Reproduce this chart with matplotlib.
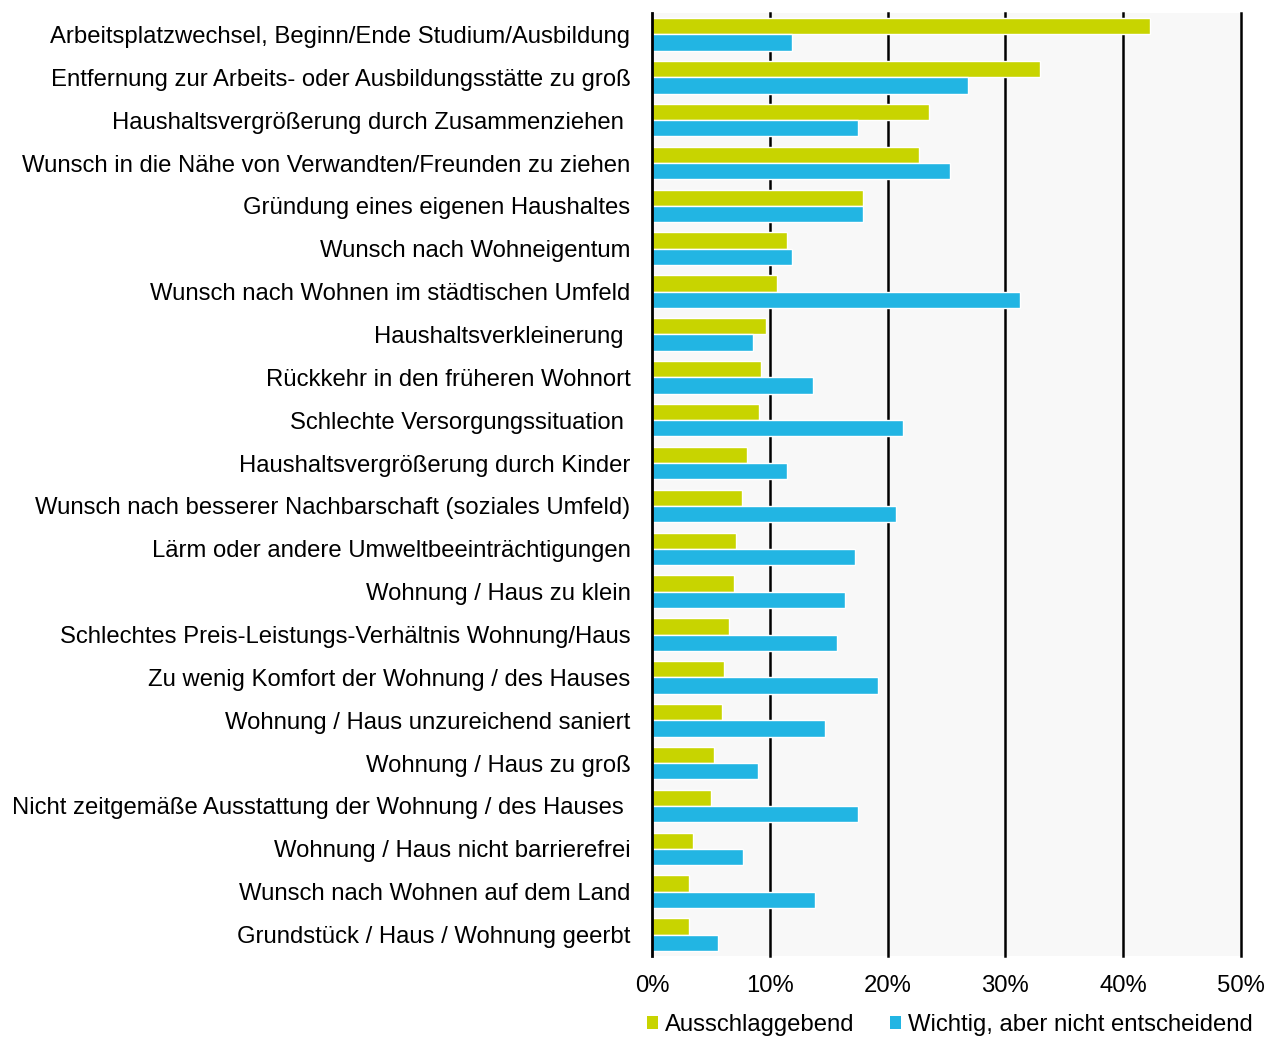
import matplotlib
matplotlib.use("Agg")
import matplotlib.pyplot as plt
import numpy as np
from matplotlib.patches import Patch

plt.rcParams['font.family'] = ['Liberation Sans', 'DejaVu Sans']

categories = [
    "Arbeitsplatzwechsel, Beginn/Ende Studium/Ausbildung",
    "Entfernung zur Arbeits- oder Ausbildungsstätte zu groß",
    "Haushaltsvergrößerung durch Zusammenziehen ",
    "Wunsch in die Nähe von Verwandten/Freunden zu ziehen",
    "Gründung eines eigenen Haushaltes",
    "Wunsch nach Wohneigentum",
    "Wunsch nach Wohnen im städtischen Umfeld",
    "Haushaltsverkleinerung ",
    "Rückkehr in den früheren Wohnort",
    "Schlechte Versorgungssituation ",
    "Haushaltsvergrößerung durch Kinder",
    "Wunsch nach besserer Nachbarschaft (soziales Umfeld)",
    "Lärm oder andere Umweltbeeinträchtigungen",
    "Wohnung / Haus zu klein",
    "Schlechtes Preis-Leistungs-Verhältnis Wohnung/Haus",
    "Zu wenig Komfort der Wohnung / des Hauses",
    "Wohnung / Haus unzureichend saniert",
    "Wohnung / Haus zu groß",
    "Nicht zeitgemäße Ausstattung der Wohnung / des Hauses ",
    "Wohnung / Haus nicht barrierefrei",
    "Wunsch nach Wohnen auf dem Land",
    "Grundstück / Haus / Wohnung geerbt",
]
ausschlaggebend = [42.3, 32.9, 23.5, 22.7, 17.9, 11.5, 10.6, 9.7, 9.25, 9.1, 8.1,
                   7.6, 7.1, 7.0, 6.5, 6.1, 5.9, 5.3, 5.0, 3.5, 3.1, 3.1]
wichtig = [11.9, 26.8, 17.5, 25.3, 17.9, 11.9, 31.2, 8.6, 13.7, 21.3, 11.5,
           20.7, 17.2, 16.4, 15.7, 19.2, 14.7, 9.0, 17.5, 7.7, 13.8, 5.6]
series_names = ["Ausschlaggebend", "Wichtig, aber nicht entscheidend"]
xticks = [0, 10, 20, 30, 40, 50]

green = "#c8d400"
blue = "#22b5e3"
fs = 17.2

fig = plt.figure(figsize=(12.74, 10.37), dpi=100)
ax = fig.add_axes([652/1274, 1-956/1037, (1241-652)/1274, (956-13)/1037])
ax.set_facecolor("#f8f8f8")

y = np.arange(len(categories))
h = 0.38
ax.barh(y - h/2, ausschlaggebend, height=h, color=green, edgecolor="white", linewidth=1, zorder=3)
ax.barh(y + h/2, wichtig, height=h, color=blue, edgecolor="white", linewidth=1, zorder=3)

ax.set_xlim(0, 50)
ax.set_ylim(len(categories) - 0.5, -0.5)
ax.set_xticks(xticks)
ax.set_xticklabels([f"{t}%" for t in xticks], fontsize=fs)
ax.set_yticks(y)
ax.set_yticklabels(categories, fontsize=fs)
ax.tick_params(axis='both', length=0)
ax.tick_params(axis='x', pad=14)
ax.tick_params(axis='y', pad=15.5)
for t in xticks[1:]:
    ax.axvline(t, color="black", linewidth=1.8, zorder=1, clip_on=False)
for s in ["top", "right", "bottom"]:
    ax.spines[s].set_visible(False)
ax.spines["left"].set_linewidth(2)
ax.spines["left"].set_color("black")
ax.spines["left"].set_zorder(4)

handles = [Patch(facecolor=green, edgecolor='none'), Patch(facecolor=blue, edgecolor='none')]
fig.legend(handles, series_names, loc="center", bbox_to_anchor=(950/1274, 1-1025/1037),
           ncol=2, frameon=False, fontsize=fs, handlelength=0.45, handleheight=0.45,
           handletextpad=0.3, columnspacing=1.5, borderpad=0)

fig.savefig("out.png", dpi=100)
